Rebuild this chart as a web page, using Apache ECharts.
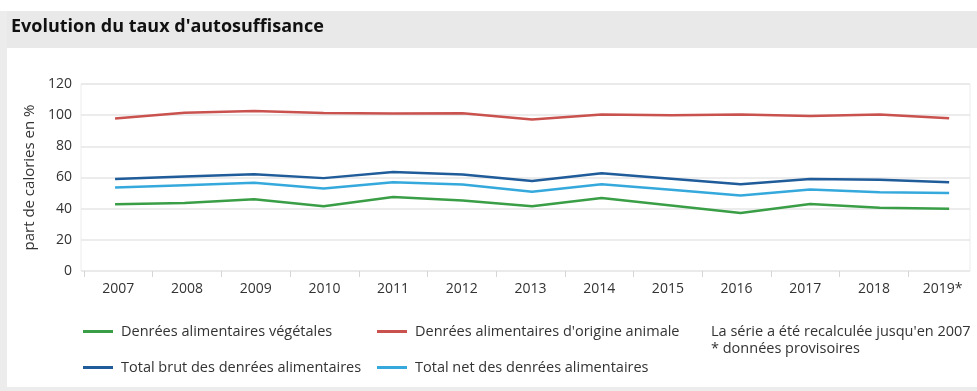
<!DOCTYPE html>
<html>
<head>
<meta charset="utf-8">
<script src="https://cdn.jsdelivr.net/npm/echarts@6/dist/echarts.min.js"></script>
<style>
  html, body { margin: 0; padding: 0; background: #ffffff; }
  #chart { width: 977px; height: 391px; }
</style>
</head>
<body>
<div id="chart"></div>
<script>
// Years shown on the horizontal axis (2019 provisional)
const yearLabels = ['2007', '2008', '2009', '2010', '2011', '2012', '2013', '2014', '2015', '2016', '2017', '2018', '2019*'];
const years = [2007, 2008, 2009, 2010, 2011, 2012, 2013, 2014, 2015, 2016, 2017, 2018, 2019];

// Self-sufficiency rate, share of calories in %
const vegetal = [42.8, 43.6, 46.0, 41.5, 47.5, 45.3, 41.5, 46.8, 42.1, 37.2, 43.0, 40.6, 40.0];
const animal  = [97.9, 101.6, 102.6, 101.4, 101.0, 101.3, 97.2, 100.5, 100.0, 100.5, 99.4, 100.5, 98.0];
const grossTotal = [59.0, 60.6, 62.1, 59.6, 63.6, 61.9, 57.8, 62.7, 59.2, 55.7, 59.1, 58.5, 57.0];
const netTotal   = [53.6, 55.1, 56.6, 52.9, 57.0, 55.5, 50.8, 55.7, 52.1, 48.5, 52.3, 50.6, 50.0];

const yTicks = { min: 0, max: 120, interval: 20 };

const seriesNames = [
  'Denrées alimentaires végétales',
  "Denrées alimentaires d'origine animale",
  'Total brut des denrées alimentaires',
  'Total net des denrées alimentaires'
];
const seriesColors = ['#3a9e47', '#c9524e', '#1f5c99', '#35a9dc'];
const seriesValues = [vegetal, animal, grossTotal, netTotal];

const FONT = '"Open Sans", "DejaVu Sans", sans-serif';
const TEXT = '#333333';

const chart = echarts.init(document.getElementById('chart'), null, { renderer: 'canvas' });

function pairs(values) {
  return values.map((v, i) => [years[i], v]);
}

function legendItem(name, left, top) {
  return {
    data: [name],
    left: left,
    top: top,
    orient: 'horizontal',
    icon: 'rect',
    itemWidth: 30,
    itemHeight: 3,
    itemGap: 0,
    padding: 0,
    selectedMode: false,
    textStyle: { fontFamily: FONT, fontSize: 14.5, color: TEXT, padding: [0, 0, 0, 3] }
  };
}

const option = {
  animation: false,
  backgroundColor: '#ffffff',
  textStyle: { fontFamily: FONT },
  graphic: [
    // panel frame
    { type: 'rect', silent: true, z: -10, shape: { x: 0, y: 11, width: 977, height: 37 }, style: { fill: '#e9e9e9' } },
    { type: 'rect', silent: true, z: -10, shape: { x: 0, y: 11, width: 7, height: 380 }, style: { fill: '#ececec' } },
    { type: 'rect', silent: true, z: -10, shape: { x: 0, y: 387, width: 977, height: 4 }, style: { fill: '#ececec' } },
    {
      type: 'text', left: 11, top: 18,
      style: { text: "Evolution du taux d'autosuffisance", fontFamily: FONT, fontWeight: 'bold', fontSize: 18, fill: '#111111' }
    },
    {
      type: 'text', left: 711, top: 323,
      style: {
        text: "La série a été recalculée jusqu'en 2007\n* données provisoires",
        fontFamily: FONT, fontSize: 14.5, lineHeight: 17, fill: TEXT
      }
    }
  ],
  legend: [
    legendItem(seriesNames[0], 83, 324),
    legendItem(seriesNames[1], 377, 324),
    legendItem(seriesNames[2], 83, 360),
    legendItem(seriesNames[3], 377, 360)
  ],
  grid: [
    // plotting area with its frame
    {
      left: 81, right: 7, top: 84, bottom: 120,
      show: true, borderColor: '#ececec', borderWidth: 1, backgroundColor: 'transparent'
    },
    // band layout used by the year labels and ticks
    { left: 84, right: 0, top: 84, bottom: 120, show: false }
  ],
  xAxis: [
    {
      type: 'value',
      gridIndex: 0,
      show: false,
      min: 2006.51,
      max: 2019.3
    },
    {
      type: 'category',
      gridIndex: 1,
      data: yearLabels,
      boundaryGap: true,
      axisLine: { show: false },
      axisTick: { show: true, length: 6, lineStyle: { color: '#d6d6d6' } },
      axisLabel: { fontFamily: FONT, fontSize: 14, color: TEXT, margin: 11 },
      splitLine: { show: false }
    }
  ],
  yAxis: [
    {
      type: 'value',
      gridIndex: 0,
      min: yTicks.min,
      max: yTicks.max,
      interval: yTicks.interval,
      name: 'part de calories en %',
      nameLocation: 'middle',
      nameGap: 39,
      nameTextStyle: { fontFamily: FONT, fontSize: 15, color: TEXT },
      axisLine: { show: false },
      axisTick: { show: false },
      axisLabel: { fontFamily: FONT, fontSize: 14, color: TEXT, margin: 9 },
      splitLine: { lineStyle: { color: '#e6e6e6', width: 1.5 } }
    },
    {
      type: 'value',
      gridIndex: 1,
      show: false,
      min: yTicks.min,
      max: yTicks.max
    }
  ],
  series: seriesNames.map((name, i) => ({
    name: name,
    type: 'line',
    xAxisIndex: 0,
    yAxisIndex: 0,
    data: pairs(seriesValues[i]),
    showSymbol: false,
    symbol: 'none',
    lineStyle: { color: seriesColors[i], width: 2.5 },
    itemStyle: { color: seriesColors[i] },
    emphasis: { disabled: true }
  }))
};

chart.setOption(option);
</script>
</body>
</html>
